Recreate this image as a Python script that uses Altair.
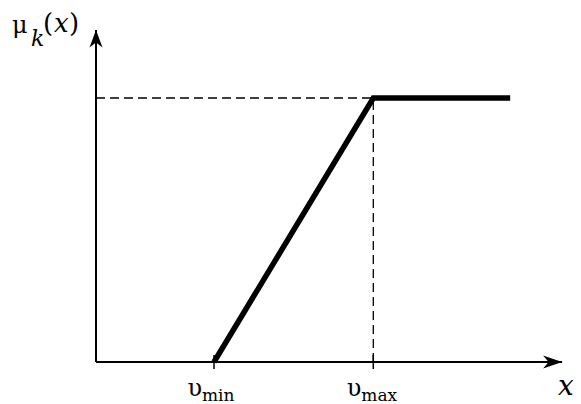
import altair as alt
import pandas as pd

# ---- data -------------------------------------------------------------
curve_x = [1.0, 2.35, 3.51]        # x positions of the membership function
curve_mu = [0.0, 1.0, 1.0]         # membership values
v_pos = [1.0, 2.35]                # υ_min, υ_max
v_sym = ["υ", "υ"]
v_sub = ["min", "max"]
mu_level = 1.0                     # saturation level
x_axis_end = 3.95                  # end of the x arrow
mu_axis_end = 1.258                # end of the μ arrow

W, H = 565, 396
FONT = "DejaVu Serif"

xs = alt.Scale(domain=[-0.7458, 4.0424], nice=False, zero=False)
ys = alt.Scale(domain=[-0.1591, 1.3409], nice=False, zero=False)


def X(f):
    return alt.X(f, type="quantitative", scale=xs, axis=None)


def Y(f):
    return alt.Y(f, type="quantitative", scale=ys, axis=None)


df_curve = pd.DataFrame({"x": curve_x, "mu": curve_mu})
df_axes = pd.DataFrame({"x": [0.0, 0.0], "x2": [x_axis_end, 0.0],
                        "y": [0.0, 0.0], "y2": [0.0, mu_axis_end]})
df_dash = pd.DataFrame({"x": [0.0, v_pos[1]], "x2": [v_pos[1], v_pos[1]],
                        "y": [mu_level, 0.0], "y2": [mu_level, mu_level]})
df_ticks = pd.DataFrame({"x": v_pos, "y": [0.0] * len(v_pos),
                         "sym": v_sym, "sub": v_sub})
df_xarrow = pd.DataFrame({"x": [x_axis_end], "y": [0.0]})
df_yarrow = pd.DataFrame({"x": [0.0], "y": [mu_axis_end]})

dash = alt.Chart(df_dash).mark_rule(color="black", strokeWidth=1.3, strokeDash=[9, 5]).encode(
    x=X("x"), x2="x2", y=Y("y"), y2="y2")

axes = alt.Chart(df_axes).mark_rule(color="black", strokeWidth=2).encode(
    x=X("x"), x2="x2", y=Y("y"), y2="y2")

curve = alt.Chart(df_curve).mark_line(color="black", strokeWidth=5.5,
                                      strokeCap="butt", strokeJoin="miter").encode(
    x=X("x"), y=Y("mu"))

ticks = alt.Chart(df_ticks).mark_point(shape="M0,-1L0,1", size=196, filled=False,
                                       color="black", strokeWidth=1.5, opacity=1).encode(
    x=X("x"), y=Y("y"))

xarrow = alt.Chart(df_xarrow).mark_point(shape="M0,0L-1.9,0.65L-1.35,0L-1.9,-0.65Z", size=400,
                                         filled=True, color="black", opacity=1, strokeWidth=0).encode(
    x=X("x"), y=Y("y"))
yarrow = alt.Chart(df_yarrow).mark_point(shape="M0,0L0.65,1.75L0,1.25L-0.65,1.75Z", size=400,
                                         filled=True, color="black", opacity=1, strokeWidth=0).encode(
    x=X("x"), y=Y("y"))

sym_text = alt.Chart(df_ticks).mark_text(font=FONT, fontSize=24, align="right", baseline="alphabetic",
                                         dx=-12, dy=34, color="black").encode(
    x=X("x"), y=Y("y"), text="sym:N")
sub_text = alt.Chart(df_ticks).mark_text(font=FONT, fontSize=17, align="left", baseline="alphabetic",
                                         dx=-12, dy=39, color="black").encode(
    x=X("x"), y=Y("y"), text="sub:N")

# y-axis title μ_k(x), anchored to the tip of the μ arrow
mu_t = yarrow.mark_text(font=FONT, fontSize=24, align="left", baseline="alphabetic",
                        dx=-84, dy=3, color="black").encode(text=alt.value("μ"))
k_t = yarrow.mark_text(font=FONT, fontSize=22, fontStyle="italic", align="left", baseline="alphabetic",
                       dx=-65, dy=16, color="black").encode(text=alt.value("k"))
lp_t = yarrow.mark_text(font=FONT, fontSize=26, align="left", baseline="alphabetic",
                        dx=-53, dy=2, color="black").encode(text=alt.value("("))
xi_t = yarrow.mark_text(font=FONT, fontSize=26, fontStyle="italic", align="left", baseline="alphabetic",
                        dx=-42, dy=2, color="black").encode(text=alt.value("x"))
rp_t = yarrow.mark_text(font=FONT, fontSize=26, align="left", baseline="alphabetic",
                        dx=-27, dy=2, color="black").encode(text=alt.value(")"))

# x-axis title
x_t = xarrow.mark_text(font=FONT, fontSize=28, fontStyle="italic", align="left", baseline="alphabetic",
                       dx=-4, dy=33, color="black").encode(text=alt.value("x"))

chart = alt.layer(dash, axes, curve, ticks, xarrow, yarrow, sym_text, sub_text,
                  mu_t, k_t, lp_t, xi_t, rp_t, x_t).properties(
    width=W, height=H, padding=0, autosize=alt.AutoSizeParams(type="none")
).configure_view(stroke=None)

chart.save("out.html", embed_options={"renderer": "svg", "actions": False})
